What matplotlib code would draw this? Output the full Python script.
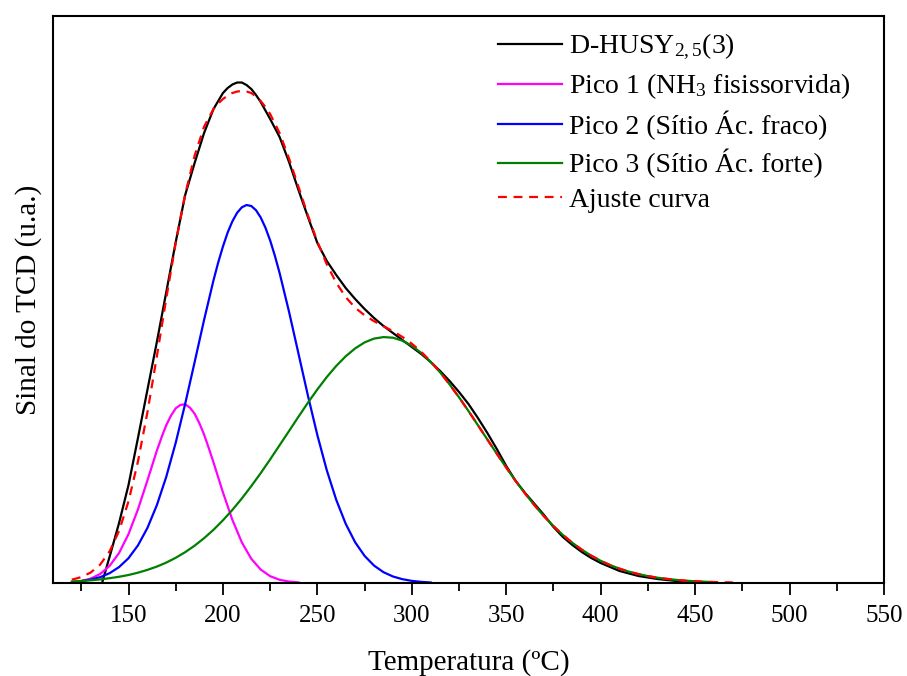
import matplotlib
matplotlib.use("Agg")
import matplotlib.pyplot as plt
from matplotlib.ticker import MultipleLocator

plt.rcParams['font.family'] = 'Liberation Serif'
plt.rcParams['mathtext.fontset'] = 'custom'
plt.rcParams['mathtext.rm'] = 'Liberation Serif'
plt.rcParams['mathtext.it'] = 'Liberation Serif:italic'

# experimental TPD curve D-HUSY2,5(3)
temp_exp = [136, 141, 145, 150, 155, 160, 165, 170, 175, 180, 185, 190, 195, 200, 202.5,
            205, 207.5, 210, 212.5, 215, 217.5, 220, 225, 230, 235, 240, 245, 250, 255,
            260, 265, 270, 275, 280, 285, 290, 295, 300, 305, 310, 315, 320, 325, 330,
            335, 340, 345, 350, 355, 360, 365, 370, 375, 380, 385, 390, 395, 400, 410,
            420, 430, 440, 450, 460]
sinal_exp = [0, 33, 60, 98, 145, 193, 241, 291, 341, 388, 420, 450, 474, 490, 495,
             498.5, 500.5, 500.5, 498, 494, 488, 481, 464, 446, 421, 393, 366, 340, 322,
             308, 295, 284, 274, 265, 257, 250, 243, 236, 229, 221, 212, 202, 191, 179,
             165, 150, 134, 117, 102, 90, 79, 68, 56, 46, 38, 31, 25, 20, 12,
             7, 4, 2, 1, 0.5]

# pico 1 (NH3 fisissorvida)
temp_p1 = [120, 125, 130, 135, 140, 145, 150, 155, 160, 165, 167.5, 170, 172.5, 175,
           177.5, 180, 182.5, 185, 187.5, 190, 192.5, 195, 200, 205, 210, 215, 220, 225,
           230, 235, 240]
sinal_p1 = [0.8, 2.0, 4.4, 9.0, 17.1, 30.0, 48.9, 73.6, 102.5, 132.3, 145.7, 157.9, 167.4,
            174.7, 178.1, 178.7, 175.4, 169.3, 159.9, 148.5, 134.9, 120.6, 90.6, 63.1,
            40.6, 24.2, 13.4, 6.8, 3.2, 1.4, 0.6]

# pico 2 (sitio acido fraco)
temp_p2 = [125, 130, 135, 140, 145, 150, 155, 160, 165, 170, 175, 180, 185, 190, 195,
           197.5, 200, 202.5, 205, 207.5, 210, 212.5, 215, 217.5, 220, 222.5, 225, 227.5,
           230, 235, 240, 245, 250, 255, 260, 265, 270, 275, 280, 285, 290, 295, 300,
           305, 310]
sinal_p2 = [1.9, 3.4, 5.8, 9.8, 15.9, 24.8, 37.6, 55.0, 77.8, 106.3, 140.3, 179.2, 220.8,
            263.0, 302.7, 320.6, 336.5, 350.5, 361.7, 370.2, 375.7, 378.0, 377.0, 372.8,
            365.5, 355.3, 342.5, 327.2, 310.0, 271.2, 229.3, 187.3, 147.8, 112.6, 83.1,
            59.2, 40.7, 27.1, 17.4, 10.8, 6.5, 3.8, 2.1, 1.1, 0.5]

# pico 3 (sitio acido forte)
temp_p3 = list(range(120, 461, 5))
sinal_p3 = [1.5, 2.0, 2.7, 3.6, 4.8, 6.2, 8.0, 10.3, 13.1, 16.4,
            20.4, 25.2, 30.8, 37.3, 44.8, 53.2, 62.7, 73.1, 84.5, 96.9,
            109.9, 123.6, 137.8, 152.0, 166.3, 180.3, 193.6, 206.0, 217.1, 226.7,
            234.6, 240.6, 244.4, 245.9, 245.3, 242.3, 237.2, 230.1, 221.1, 210.6,
            198.6, 185.7, 172.0, 157.8, 143.5, 129.3, 115.4, 102.0, 89.4, 77.6,
            66.7, 56.9, 48.0, 40.2, 33.3, 27.3, 22.2, 17.9, 14.3, 11.3,
            8.9, 6.9, 5.3, 4.1, 3.1, 2.3, 1.7, 1.25, 0.9]

# ajuste (soma dos picos)
temp_fit = [120, 125, 130, 135, 140, 145, 150, 155, 160, 165, 170, 175, 180, 185, 190,
            195, 197.5, 200, 202.5, 205, 207.5, 210, 212.5, 215, 217.5, 220, 222.5, 225,
            230, 235, 240, 245, 250, 255, 260, 265, 270, 275, 280, 285, 290, 295, 300,
            305, 310, 315, 320, 325, 330, 335, 340, 345, 350, 355, 360, 365, 370, 375,
            380, 385, 390, 395, 400, 405, 410, 415, 420, 425, 430, 435, 440, 445, 450,
            455, 460, 465, 470]
sinal_fit = [3.3, 5.9, 10.5, 18.4, 31.7, 52.1, 81.7, 121.5, 170.6, 226.5, 284.6, 340.2,
             388.7, 427.4, 456.3, 474, 479.5, 484, 487.5, 490, 491.5, 492, 491.5, 490,
             486.5, 482, 476, 469, 450, 424.6, 396.2, 367.6, 341.4, 318.6, 300.2, 285.9,
             275.3, 267.7, 261.8, 256.8, 251.8, 246.1, 239.3, 231.2, 221.6, 210.8, 198.6,
             185.7, 172.0, 157.8, 143.5, 129.3, 115.4, 102.0, 89.4, 77.6, 66.7, 56.9,
             48.0, 40.2, 33.3, 27.3, 22.2, 17.9, 14.3, 11.3, 8.9, 6.9, 5.3, 4.1, 3.1,
             2.3, 1.7, 1.25, 0.9, 0.7, 0.5]

fig = plt.figure(figsize=(9.07, 6.76), dpi=100)
ax = fig.add_axes([0.0584, 0.1376, 0.9162, 0.8387])

ax.plot(temp_exp, sinal_exp, color='black', lw=1.6, label=r'D-HUSY$_{\mathrm{2,5}}$(3)')
ax.plot(temp_p1, sinal_p1, color='#ff00ff', lw=1.6, label=r'Pico 1 (NH$_{\mathrm{3}}$ fisissorvida)')
ax.plot(temp_p2, sinal_p2, color='#0000ff', lw=1.6, label='Pico 2 (Sítio Ác. fraco)')
ax.plot(temp_p3, sinal_p3, color='#008000', lw=1.6, label='Pico 3 (Sítio Ác. forte)')
ax.plot(temp_fit, sinal_fit, color='#ff0000', lw=1.6, ls=(0, (4, 3)), label='Ajuste curva')

ax.set_xlim(110, 550)
ax.set_ylim(0, 567)
ax.xaxis.set_minor_locator(MultipleLocator(25))
ax.set_xticks(range(150, 551, 50))
ax.set_yticks([])
ax.tick_params(axis='x', which='major', direction='out', length=8.5, width=1.3,
               labelsize=18, pad=7)
ax.tick_params(axis='x', which='minor', direction='out', length=5.5, width=1.3)
for s in ax.spines.values():
    s.set_linewidth(1.5)

ax.set_xlabel('Temperatura (ºC)', fontsize=21, labelpad=16)
ax.set_ylabel('Sinal do TCD (u.a.)', fontsize=21, labelpad=8)

ax.legend(loc='upper left', bbox_to_anchor=(0.5355, 0.9715), frameon=False, fontsize=20,
          handlelength=2.3, handletextpad=0.25, labelspacing=0.33, borderpad=0,
          borderaxespad=0)

fig.savefig('out.png', dpi=100)
